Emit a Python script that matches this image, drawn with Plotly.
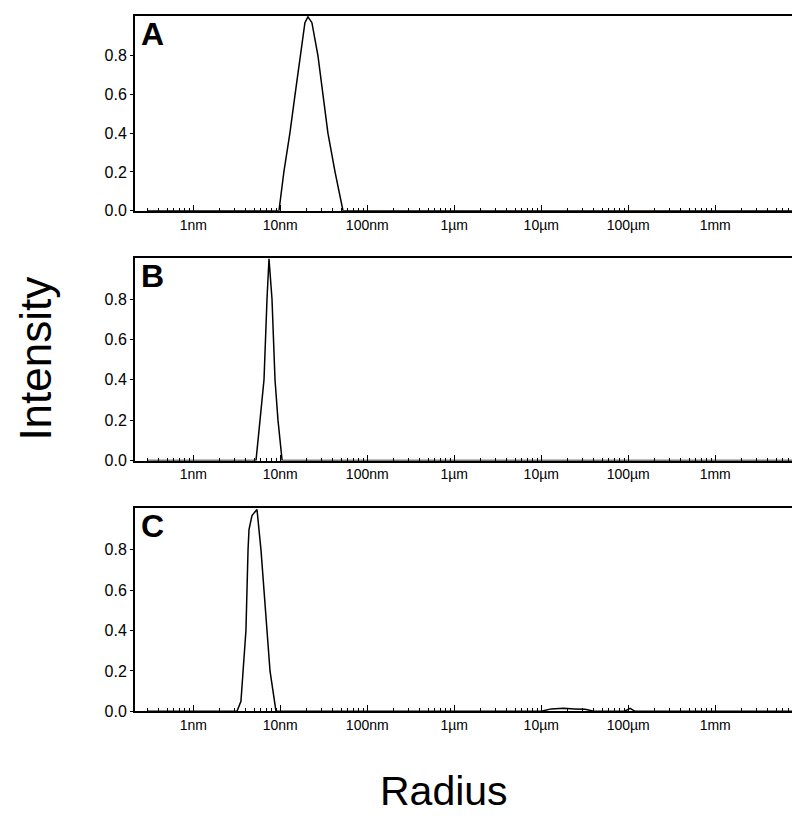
import plotly.graph_objects as go

# Radius in nm, intensity normalised
radius_a = [0.3, 9.66, 11.0, 12.9, 14.8, 16.9, 19.2, 20.8, 23.1, 27.1, 31.0, 35.3, 42.6, 52.6, 8e6]
intensity_a = [0, 0, 0.2, 0.4, 0.6, 0.8, 0.97, 1.0, 0.97, 0.8, 0.6, 0.4, 0.2, 0, 0]

radius_b = [0.3, 5.26, 5.85, 6.5, 7.04, 7.42, 8.03, 8.7, 9.41, 10.5, 8e6]
intensity_b = [0, 0, 0.2, 0.4, 0.8, 1.0, 0.8, 0.4, 0.2, 0, 0]

radius_c = [0.3, 3.18, 3.53, 3.73, 4.03, 4.26, 4.37, 4.73, 5.4, 6.0, 6.5, 7.03, 7.62, 8.93,
            1.0e4, 1.3e4, 1.8e4, 2.4e4, 3.2e4, 4.0e4, 9.0e4, 1.05e5, 1.2e5, 8e6]
intensity_c = [0, 0, 0.05, 0.2, 0.4, 0.8, 0.9, 0.97, 1.0, 0.8, 0.6, 0.4, 0.2, 0,
               0, 0.012, 0.015, 0.012, 0.01, 0, 0, 0.015, 0, 0]

panel_labels = ["A", "B", "C"]
x_tickvals = [1, 10, 100, 1e3, 1e4, 1e5, 1e6]
x_ticktext = ["1nm", "10nm", "100nm", "1µm", "10µm", "100µm", "1mm"]
y_tickvals = [0.0, 0.2, 0.4, 0.6, 0.8]
y_ticktext = ["0.0", "0.2", "0.4", "0.6", "0.8"]

series = [(radius_a, intensity_a), (radius_b, intensity_b), (radius_c, intensity_c)]

# page body adds an offset; work in reference pixel coordinates
W, H = 792, 830


def px(x):
    return (x - 8) / W


def py(y):
    return 1 - ((y - 7.1) / 0.99) / H


x_dom = [px(135), px(797)]
y_doms = [(15, 210), (257, 460), (508, 711)]

minor_vals = [k * 10 ** e for e in range(-1, 7) for k in range(2, 10)]

fig = go.Figure()
font_family = "Liberation Sans, Arial, sans-serif"

for i, ((xs, ys), (top, bot)) in enumerate(zip(series, y_doms)):
    n = "" if i == 0 else str(i + 1)
    fig.add_trace(go.Scatter(x=xs, y=ys, mode="lines",
                             line=dict(color="black", width=1.5),
                             xaxis="x" + n, yaxis="y" + n, showlegend=False))
    fig.update_layout(**{
        "xaxis" + n: dict(
            type="log", range=[-0.67, 6.94], domain=x_dom, anchor="y" + n,
            showgrid=False, zeroline=False, showline=True, linecolor="black",
            linewidth=2, mirror=True,
            tickmode="array", tickvals=x_tickvals, ticktext=x_ticktext,
            ticks="inside", ticklen=6, tickcolor="black", tickwidth=1,
            tickfont=dict(size=14, family=font_family, color="black"),
            minor=dict(tickmode="array", tickvals=minor_vals, ticks="inside",
                       ticklen=3, tickcolor="black", showgrid=False),
        ),
        "yaxis" + n: dict(
            range=[0, 1.005], domain=[py(bot), py(top)], anchor="x" + n,
            showgrid=False, zeroline=False, showline=True, linecolor="black",
            linewidth=2, mirror=(i == 0),
            tickmode="array", tickvals=y_tickvals, ticktext=y_ticktext,
            ticks="outside", ticklen=3, tickcolor="black",
            tickfont=dict(size=16, family=font_family, color="black"),
        ),
    })
    fig.add_annotation(text="<b>%s</b>" % panel_labels[i], xref="paper", yref="paper",
                       x=px(139), y=py(top - 2), xanchor="left", yanchor="top",
                       showarrow=False,
                       font=dict(size=32, family=font_family, color="black"))

fig.add_annotation(text="Intensity", xref="paper", yref="paper",
                   x=px(36), y=py(358), textangle=-90, showarrow=False,
                   xanchor="center", yanchor="middle",
                   font=dict(size=44, family=font_family, color="black"))
fig.add_annotation(text="Radius", xref="paper", yref="paper",
                   x=px(444), y=py(791), showarrow=False,
                   xanchor="center", yanchor="middle",
                   font=dict(size=41, family=font_family, color="black"))

fig.update_layout(width=W, height=H, margin=dict(l=0, r=0, t=0, b=0),
                  paper_bgcolor="white", plot_bgcolor="white")

fig.write_html("out.html")
